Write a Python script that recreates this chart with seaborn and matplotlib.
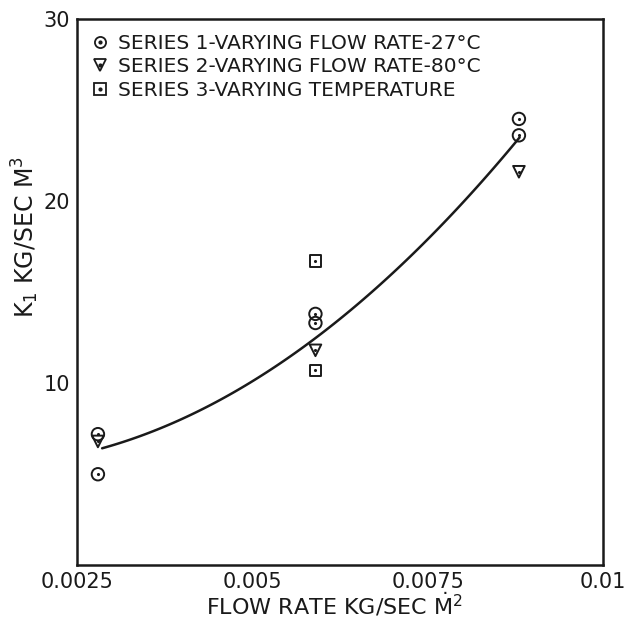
import numpy as np
import pandas as pd
import matplotlib
matplotlib.use("Agg")
import matplotlib.pyplot as plt
import seaborn as sns
from matplotlib.lines import Line2D
from matplotlib.legend_handler import HandlerTuple

# ---- data ----
s1_x = [0.0028, 0.0028, 0.0059, 0.0059, 0.0088, 0.0088]
s1_y = [7.2, 5.0, 13.8, 13.3, 24.5, 23.6]
s2_x = [0.0028, 0.0059, 0.0088]
s2_y = [6.8, 11.8, 21.6]
s3_x = [0.0059, 0.0059]
s3_y = [16.7, 10.7]
curve_x = [0.00286, 0.00326, 0.00414, 0.00503, 0.00563, 0.00647, 0.00815, 0.00881]
curve_y = [6.5, 6.8, 8.45, 10.0, 11.5, 14.5, 20.6, 23.4]

labels = ["SERIES 1-VARYING FLOW RATE-27\u00b0C",
          "SERIES 2-VARYING FLOW RATE-80\u00b0C",
          "SERIES 3-VARYING TEMPERATURE"]
x_ticks = [0.0025, 0.005, 0.0075, 0.01]
x_ticklabels = ["0.0025", "0.005", "0.0075", "0.01"]
y_ticks = [10, 20, 30]
y_ticklabels = ["10", "20", "30"]

sns.set_style("white")
plt.rcParams["font.family"] = ["DejaVu Sans"]
plt.rcParams["mathtext.fontset"] = "dejavusans"

fig = plt.figure(figsize=(6.25, 6.24), dpi=100)
ax = fig.add_axes([0.123, 0.094, 0.842, 0.876])

ink = "#1a1a1a"
markers = ["o", "v", "s"]
sizes = [80, 70, 70]
series = [(s1_x, s1_y), (s2_x, s2_y), (s3_x, s3_y)]
for (xs, ys), m, s in zip(series, markers, sizes):
    df = pd.DataFrame({"x": xs, "y": ys})
    sns.scatterplot(data=df, x="x", y="y", marker=m, s=s, fc="none",
                    ec=ink, linewidth=1.4, ax=ax, zorder=3)
    sns.scatterplot(data=df, x="x", y="y", marker="o", s=5, color=ink,
                    linewidth=0, ax=ax, zorder=4)

cdf = pd.DataFrame({"x": curve_x, "y": curve_y})
sns.regplot(data=cdf, x="x", y="y", order=2, ci=None, scatter=False,
            truncate=True, line_kws={"color": ink, "linewidth": 1.8}, ax=ax)

ax.set_xlim(0.0025, 0.01)
ax.set_ylim(0, 30)
ax.set_xticks(x_ticks)
ax.set_xticklabels(x_ticklabels, fontsize=15, color=ink)
ax.set_yticks(y_ticks)
ax.set_yticklabels(y_ticklabels, fontsize=15, color=ink)
ax.tick_params(axis="both", direction="out", length=3, width=1.2, pad=2, colors=ink)
for sp in ax.spines.values():
    sp.set_linewidth(1.8)
    sp.set_color(ink)

ax.set_xlabel(r"FLOW RATE KG/SEC $\dot{\mathrm{M}}^2$", fontsize=16, color=ink)
ax.xaxis.set_label_coords(0.49, -0.046)
ax.set_ylabel(r"K$_1$ KG/SEC M$^3$", fontsize=17, color=ink)
ax.yaxis.set_label_coords(-0.068, 0.60)

handles = []
for m in markers:
    h1 = Line2D([], [], marker=m, linestyle="none", markersize=8,
                markerfacecolor="none", markeredgecolor=ink, markeredgewidth=1.3)
    h2 = Line2D([], [], marker="o", linestyle="none", markersize=2,
                markerfacecolor=ink, markeredgecolor=ink)
    handles.append((h1, h2))
ax.legend(handles, labels, handler_map={tuple: HandlerTuple(ndivide=1, pad=0)},
          loc="upper left", frameon=False, fontsize=14.5, handlelength=0.8,
          handletextpad=0.5, labelspacing=0.22, borderaxespad=0.35,
          labelcolor=ink)

fig.savefig("out.png", dpi=100, facecolor="white")
